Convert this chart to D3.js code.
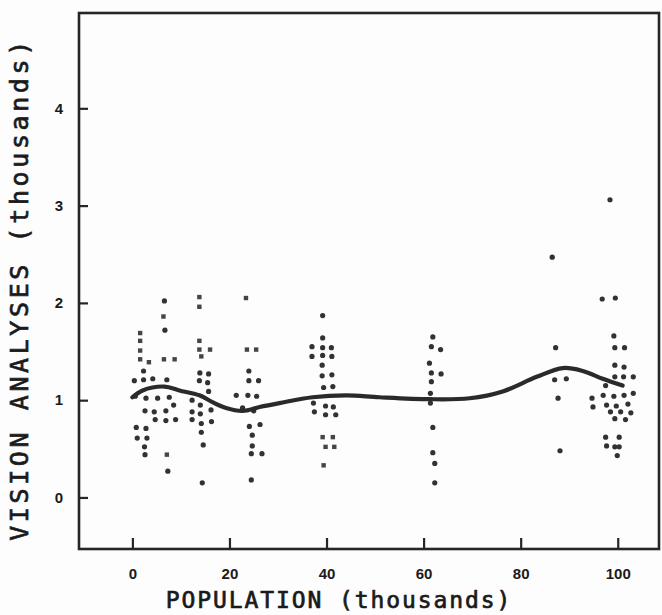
<!DOCTYPE html>
<html>
<head>
<meta charset="utf-8">
<script src="https://cdn.jsdelivr.net/npm/d3@7"></script>
<style>
  html, body { margin: 0; padding: 0; background: #fdfdfd; }
  svg { display: block; }
</style>
</head>
<body>
<div id="chart"></div>
<script>
// Vision analyses per community against population (both in thousands)
const xTicks = [0, 20, 40, 60, 80, 100];
const yTicks = [0, 1, 2, 3, 4];

// Individual communities, plotted as round dots
const dotX = [
  6.6, 6.7, 2.3, 0.4, 2.3, 4.2, 7.1, 0.6, 2.8, 5.2, 7.6, 8.5, 2.6, 4.5, 6.9, 4.7, 6.9, 8.9, 0.8, 2.8, 1.0, 3.0, 2.5, 2.6, 7.3,
  13.9, 15.7, 13.8, 15.5, 15.7, 12.3, 14.0, 16.2, 12.3, 14.0, 12.3, 16.3, 14.2, 14.2, 14.6, 14.4,
  24.0, 24.0, 26.0, 21.4, 23.8, 25.6, 22.7, 25.0, 24.1, 26.3, 24.7, 24.7, 24.5, 26.7, 24.5,
  39.2, 39.2, 37.0, 39.2, 41.0, 37.0, 39.2, 41.1, 39.1, 39.1, 41.1, 39.4, 41.3, 37.3, 39.8, 41.4, 37.5, 39.8, 41.9,
  61.9, 61.6, 63.5, 61.2, 61.6, 63.6, 61.6, 61.4, 61.4, 61.9, 61.9, 62.3, 62.3,
  86.5, 87.2, 87.0, 89.4, 87.7, 88.1,
  98.4, 96.8, 99.5, 99.2, 99.4, 101.4, 99.4, 101.3, 99.4, 101.2, 103.2, 97.5, 97.0, 99.2, 101.3, 103.2,
  94.7, 94.9, 97.7, 99.7, 102.1, 98.5, 100.6, 102.7, 99.4, 101.6, 97.5, 100.3, 97.7, 99.4, 100.3, 99.9
];
const dotY = [
  2.02, 1.72, 1.30, 1.20, 1.21, 1.22, 1.21, 1.04, 1.02, 1.02, 1.03, 0.95, 0.89, 0.88, 0.89, 0.80, 0.79, 0.80, 0.72, 0.71, 0.61, 0.61, 0.52, 0.44, 0.27,
  1.28, 1.27, 1.20, 1.18, 1.09, 1.00, 0.95, 0.90, 0.88, 0.86, 0.80, 0.78, 0.76, 0.67, 0.54, 0.15,
  1.30, 1.20, 1.20, 1.05, 1.05, 1.04, 0.92, 0.89, 0.73, 0.75, 0.64, 0.53, 0.45, 0.45, 0.18,
  1.87, 1.64, 1.55, 1.54, 1.54, 1.45, 1.46, 1.45, 1.36, 1.25, 1.26, 1.13, 1.14, 0.97, 0.94, 0.93, 0.88, 0.85, 0.85,
  1.65, 1.55, 1.52, 1.38, 1.28, 1.27, 1.19, 1.07, 0.97, 0.72, 0.46, 0.35, 0.15,
  2.47, 1.54, 1.21, 1.22, 1.02, 0.48,
  3.06, 2.04, 2.05, 1.66, 1.54, 1.54, 1.36, 1.34, 1.24, 1.24, 1.24, 1.15, 1.05, 1.04, 1.05, 1.07,
  1.02, 0.93, 0.95, 0.94, 0.96, 0.88, 0.88, 0.87, 0.81, 0.80, 0.62, 0.62, 0.53, 0.52, 0.52, 0.43
];

// Communities printed with a square symbol
const boxX = [1.6, 1.6, 1.6, 1.6, 3.4, 6.4, 6.5, 8.7, 7.1, 13.8, 13.8, 13.8, 13.8, 16.0, 14.2, 23.4, 23.6, 25.5, 39.2, 41.3, 39.8, 41.6, 39.4];
const boxY = [1.69, 1.61, 1.51, 1.42, 1.39, 1.86, 1.42, 1.42, 0.44, 2.06, 1.96, 1.61, 1.52, 1.52, 1.45, 2.05, 1.52, 1.52, 0.62, 0.62, 0.52, 0.52, 0.33];

// Smoothed trend through the scatter
const trendX = [0, 2.1, 6.6, 9.7, 13.8, 16.5, 19.3, 22.7, 26.2, 30.3, 37.1, 44.1, 50.9, 61.2, 69.5, 76.3, 83.3, 88.7, 92.8, 96.9, 101];
const trendY = [1.03, 1.10, 1.14, 1.10, 1.05, 0.98, 0.92, 0.89, 0.93, 0.97, 1.03, 1.05, 1.03, 1.01, 1.02, 1.09, 1.24, 1.33, 1.30, 1.22, 1.15];

const W = 662, H = 615;
const frame = { left: 79, right: 659, top: 13, bottom: 549 };

const svg = d3.select("#chart").append("svg")
  .attr("width", W).attr("height", H);

svg.append("rect").attr("width", W).attr("height", H).attr("fill", "#fdfdfd");

const defs = svg.append("defs");
defs.append("filter").attr("id", "soft")
  .append("feGaussianBlur").attr("stdDeviation", 0.45);

const x = d3.scaleLinear().domain([-11, 108.5]).range([frame.left, frame.right]);
const y = d3.scaleLinear().domain([-0.53, 4.98]).range([frame.bottom, frame.top]);

const ink = "#262626";

// Frame
svg.append("rect")
  .attr("x", frame.left).attr("y", frame.top)
  .attr("width", frame.right - frame.left).attr("height", frame.bottom - frame.top)
  .attr("fill", "none").attr("stroke", ink).attr("stroke-width", 2.6);

// Axes with inward ticks
const xAxis = d3.axisBottom(x).tickValues(xTicks).tickSizeInner(-11).tickSizeOuter(0).tickPadding(19);
const yAxis = d3.axisLeft(y).tickValues(yTicks).tickSizeInner(-9).tickSizeOuter(0).tickPadding(16).tickFormat(d3.format("d"));

const gx = svg.append("g").attr("transform", `translate(0,${frame.bottom})`).call(xAxis);
const gy = svg.append("g").attr("transform", `translate(${frame.left},0)`).call(yAxis);

[gx, gy].forEach(g => {
  g.select(".domain").remove();
  g.selectAll(".tick line").attr("stroke", ink).attr("stroke-width", 2.2);
  g.selectAll(".tick text")
    .attr("fill", "#1a1a1a")
    .style("font-family", "'Liberation Sans', Arial, sans-serif")
    .style("font-weight", "bold")
    .style("font-size", "15px");
});

// Trend curve
const line = d3.line()
  .x((d, i) => x(trendX[i]))
  .y((d, i) => y(trendY[i]))
  .curve(d3.curveCatmullRom.alpha(0.5));

const marks = svg.append("g").attr("filter", "url(#soft)");

// Points
marks.selectAll("circle.pt").data(dotX).join("circle")
  .attr("class", "pt")
  .attr("cx", (d, i) => x(dotX[i]))
  .attr("cy", (d, i) => y(dotY[i]))
  .attr("r", 2.6)
  .attr("fill", "#303030");

marks.selectAll("rect.pt").data(boxX).join("rect")
  .attr("class", "pt")
  .attr("x", (d, i) => x(boxX[i]) - 2.2)
  .attr("y", (d, i) => y(boxY[i]) - 2.2)
  .attr("width", 4.4).attr("height", 4.4)
  .attr("fill", "#444");

marks.append("path")
  .datum(trendX)
  .attr("d", line)
  .attr("fill", "none")
  .attr("stroke", "#2a2a2a")
  .attr("stroke-width", 4.2)
  .attr("stroke-linecap", "round");

// Axis titles
svg.append("text")
  .attr("x", 339).attr("y", 608)
  .attr("text-anchor", "middle")
  .attr("fill", "#1a1a1a")
  .attr("stroke", "#1a1a1a").attr("stroke-width", 0.7)
  .style("font-family", "'DejaVu Sans Mono', monospace")
  .style("font-size", "23px")
  .style("letter-spacing", "1.9px")
  .text("POPULATION (thousands)");

svg.append("text")
  .attr("transform", "translate(28,289) rotate(-90)")
  .attr("text-anchor", "middle")
  .attr("fill", "#1a1a1a")
  .attr("stroke", "#1a1a1a").attr("stroke-width", 0.7)
  .style("font-family", "'DejaVu Sans Mono', monospace")
  .style("font-size", "25px")
  .style("letter-spacing", "3.6px")
  .text("VISION ANALYSES (thousands)");
</script>
</body>
</html>
